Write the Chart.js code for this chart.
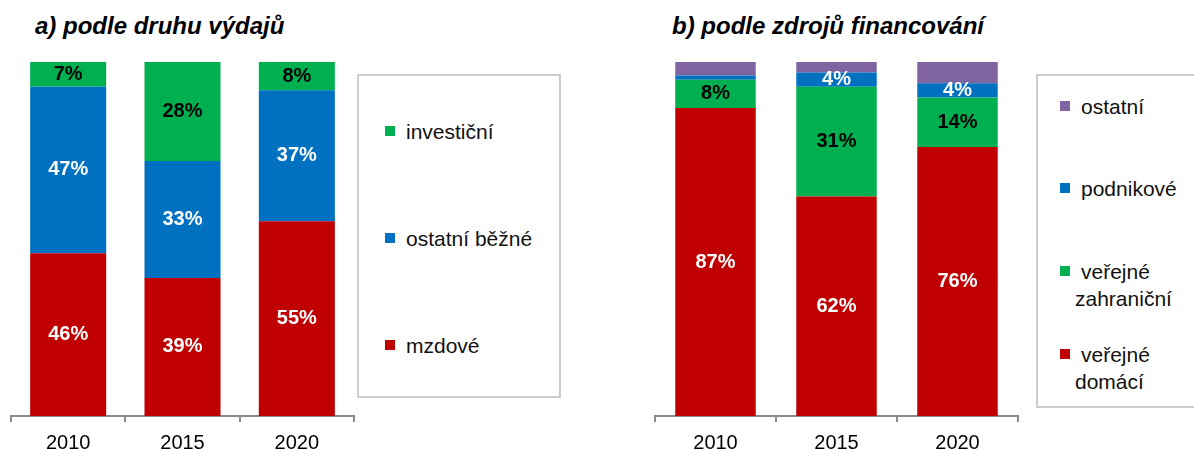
<!DOCTYPE html>
<html>
<head>
<meta charset="utf-8">
<script src="https://cdn.jsdelivr.net/npm/chart.js@4.4.1/dist/chart.umd.min.js"></script>
<style>
  html, body { margin: 0; padding: 0; background: #fff; }
  #stage { position: relative; width: 1194px; height: 451px; overflow: hidden; }
  .title { position: absolute; top: 14px; font: italic bold 24px/24px "Liberation Sans", Arial, sans-serif; color: #000; white-space: nowrap; }
  .chartbox { position: absolute; top: 0; }
  .legend { position: absolute; border: 2px solid #cccccc; box-sizing: border-box; background: #fff; }
  .item { position: absolute; font: 21px/27px "Liberation Sans", Arial, sans-serif; color: #111; }
  .swatch { position: absolute; width: 10px; height: 10px; }
</style>
</head>
<body>
<div id="stage">
  <div class="title" style="left:35px">a) podle druhu výdajů</div>
  <div class="title" style="left:672px">b) podle zdrojů financování</div>
  <div class="chartbox" style="left:0"><canvas id="chartA" width="357" height="451"></canvas></div>
  <div class="chartbox" style="left:640px"><canvas id="chartB" width="380" height="451"></canvas></div>
  <div class="legend" style="left:357px;top:74px;width:204px;height:324px"></div>
  <div class="legend" style="left:1036px;top:74px;width:170px;height:334px"></div>
</div>
<script>
// Years on the category axis
const years = ['2010', '2015', '2020'];

// a) podle druhu výdajů (share in %)
const mzdove = [46, 39, 55];
const ostatniBezne = [47, 33, 37];
const investicni = [7, 28, 8];

// b) podle zdrojů financování (share in %)
const verejneDomaci = [87, 62, 76];
const verejneZahranicni = [8, 31, 14];
const podnikove = [1.2, 4, 4];
const ostatni = [3.8, 3, 6];

const RED = '#C00000', BLUE = '#0070C0', GREEN = '#00B050', PURPLE = '#8064A2';
const FONT = '"Liberation Sans", Arial, sans-serif';

// Percent labels centred inside each stacked segment
const barValueLabels = {
  id: 'barValueLabels',
  afterDatasetsDraw(chart, _args, opts) {
    const ctx = chart.ctx;
    ctx.save();
    ctx.font = 'bold 20px ' + FONT;
    ctx.textAlign = 'center';
    ctx.textBaseline = 'middle';
    chart.data.datasets.forEach((ds, i) => {
      if (!ds.valueLabelColor) return;
      const meta = chart.getDatasetMeta(i);
      meta.data.forEach((bar, j) => {
        const v = ds.data[j];
        if (v < opts.minValue) return;
        ctx.fillStyle = ds.valueLabelColor;
        ctx.fillText(Math.round(v) + '%', bar.x, (bar.y + bar.base) / 2);
      });
    });
    ctx.restore();
  }
};

function makeOptions(padLeft, padRight) {
  return {
    responsive: false,
    animation: false,
    layout: { padding: { left: padLeft, right: padRight, top: 62, bottom: 0 } },
    datasets: { bar: { barPercentage: 0.665, categoryPercentage: 1, borderWidth: 0 } },
    plugins: {
      legend: { display: false },
      tooltip: { enabled: false },
      title: { display: false },
      barValueLabels: { minValue: 3 }
    },
    scales: {
      x: {
        stacked: true,
        offset: true,
        grid: { offset: true, drawOnChartArea: false, drawTicks: true, tickLength: 6, color: '#898989', lineWidth: 2 },
        border: { display: true, color: '#898989', width: 2 },
        ticks: { color: '#000', font: { family: FONT, size: 20 }, padding: 9, maxRotation: 0 },
        afterFit(scale) { scale.height = 35; }
      },
      y: { stacked: true, display: false, min: 0, max: 100 }
    }
  };
}

const datasetsA = [
  { label: 'mzdové', data: mzdove, backgroundColor: RED, valueLabelColor: '#fff' },
  { label: 'ostatní běžné', data: ostatniBezne, backgroundColor: BLUE, valueLabelColor: '#fff' },
  { label: 'investiční', data: investicni, backgroundColor: GREEN, valueLabelColor: '#000' }
];
const datasetsB = [
  { label: 'veřejné domácí', data: verejneDomaci, backgroundColor: RED, valueLabelColor: '#fff' },
  { label: 'veřejné zahraniční', data: verejneZahranicni, backgroundColor: GREEN, valueLabelColor: '#000' },
  { label: 'podnikové', data: podnikove, backgroundColor: BLUE, valueLabelColor: '#fff' },
  { label: 'ostatní', data: ostatni, backgroundColor: PURPLE, valueLabelColor: null }
];

new Chart(document.getElementById('chartA'), {
  type: 'bar',
  data: { labels: years, datasets: datasetsA },
  options: makeOptions(11, 3),
  plugins: [barValueLabels]
});
new Chart(document.getElementById('chartB'), {
  type: 'bar',
  data: { labels: years, datasets: datasetsB },
  options: makeOptions(15, 2),
  plugins: [barValueLabels]
});

// Boxed legends, top entry = top of the stack
function buildLegend(datasets, layout) {
  const stage = document.getElementById('stage');
  datasets.slice().reverse().forEach((ds, k) => {
    const cy = layout.rowCenters[k];
    const sw = document.createElement('div');
    sw.className = 'swatch';
    sw.style.left = layout.swatchX + 'px';
    sw.style.top = (cy - 5) + 'px';
    sw.style.background = ds.backgroundColor;
    stage.appendChild(sw);
    const tx = document.createElement('div');
    tx.className = 'item';
    tx.style.left = layout.textX + 'px';
    tx.style.top = (cy - 13.5) + 'px';
    tx.style.width = layout.textWidth + 'px';
    tx.style.textIndent = layout.indent + 'px';
    tx.textContent = ds.label;
    stage.appendChild(tx);
  });
}
buildLegend(datasetsA, { swatchX: 385, textX: 406, textWidth: 150, indent: 0, rowCenters: [131, 238, 345] });
buildLegend(datasetsB, { swatchX: 1060, textX: 1075, textWidth: 115, indent: 6, rowCenters: [106, 188, 271, 354] });
</script>
</body>
</html>
